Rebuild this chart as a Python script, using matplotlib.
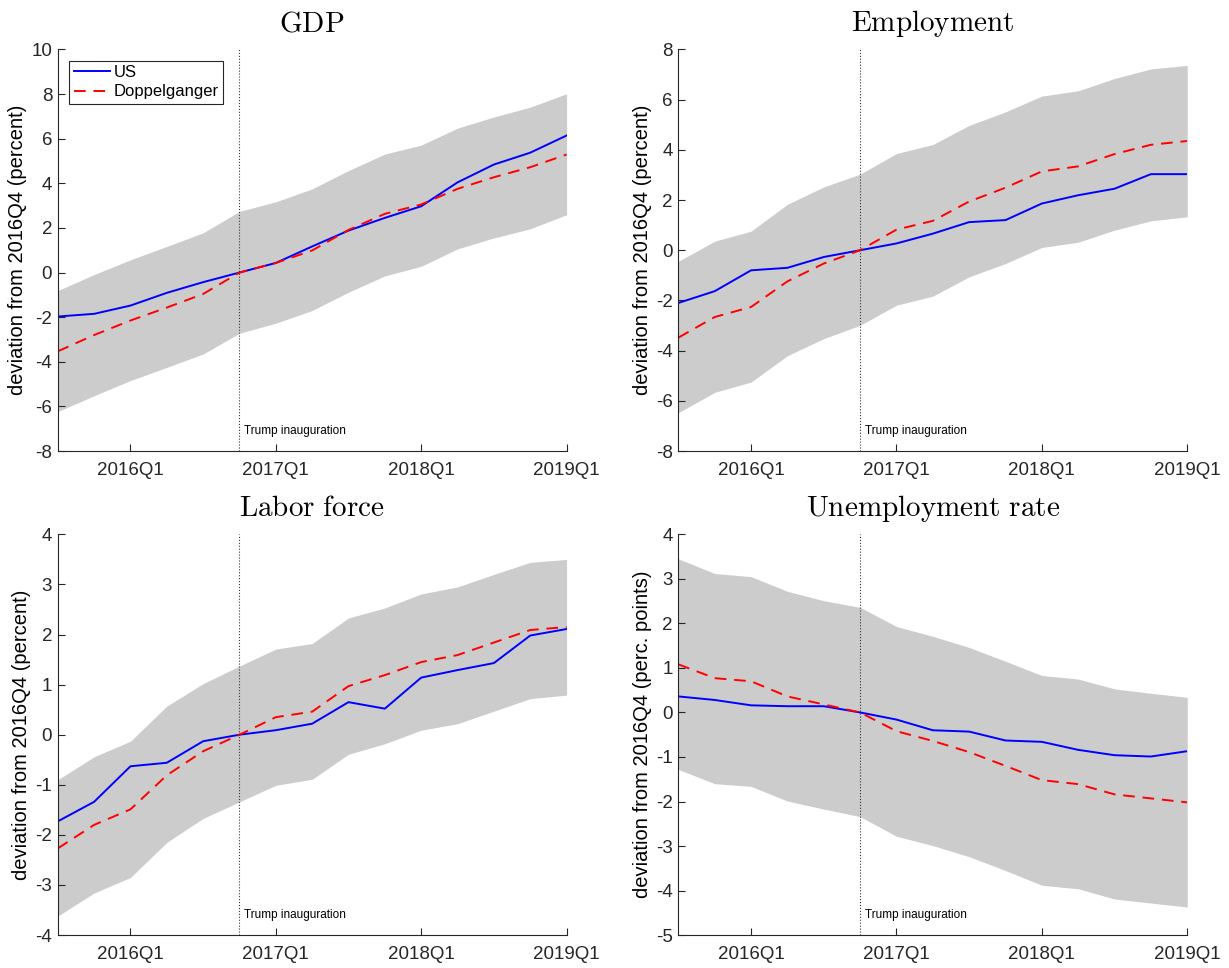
import numpy as np
import matplotlib
matplotlib.use("Agg")
import matplotlib.pyplot as plt

plt.rcParams['font.family'] = ['Liberation Sans', 'DejaVu Sans']
plt.rcParams['mathtext.fontset'] = 'cm'

# quarters 2015Q3 .. 2019Q1
quarters = ['2015Q3', '2015Q4', '2016Q1', '2016Q2', '2016Q3', '2016Q4', '2017Q1', '2017Q2',
            '2017Q3', '2017Q4', '2018Q1', '2018Q2', '2018Q3', '2018Q4', '2019Q1']
tick_labels = ['2016Q1', '2017Q1', '2018Q1', '2019Q1']
event_quarter = '2016Q4'

gdp_us = [-1.97, -1.85, -1.48, -0.91, -0.43, 0, 0.43, 1.17, 1.88, 2.45, 2.97, 4.04, 4.84, 5.37, 6.14]
gdp_dg = [-3.53, -2.80, -2.15, -1.57, -0.96, 0, 0.43, 0.99, 1.91, 2.63, 3.05, 3.75, 4.27, 4.72, 5.29]
gdp_hi = [-0.81, -0.09, 0.57, 1.17, 1.78, 2.74, 3.17, 3.75, 4.57, 5.31, 5.71, 6.47, 6.97, 7.41, 8.01]
gdp_lo = [-6.23, -5.52, -4.84, -4.25, -3.65, -2.72, -2.27, -1.70, -0.88, -0.15, 0.28, 1.06, 1.55, 1.96, 2.59]

emp_us = [-2.10, -1.63, -0.80, -0.70, -0.27, 0, 0.27, 0.66, 1.12, 1.20, 1.86, 2.19, 2.45, 3.03, 3.03]
emp_dg = [-3.48, -2.66, -2.26, -1.24, -0.53, 0, 0.82, 1.17, 1.94, 2.49, 3.14, 3.34, 3.83, 4.20, 4.35]
emp_hi = [-0.44, 0.36, 0.76, 1.83, 2.52, 3.03, 3.85, 4.21, 4.97, 5.51, 6.14, 6.35, 6.84, 7.22, 7.36]
emp_lo = [-6.47, -5.66, -5.25, -4.20, -3.52, -2.99, -2.19, -1.83, -1.06, -0.53, 0.11, 0.32, 0.80, 1.17, 1.33]

lf_us = [-1.73, -1.34, -0.63, -0.56, -0.13, 0, 0.09, 0.22, 0.65, 0.52, 1.14, 1.29, 1.43, 1.98, 2.11]
lf_dg = [-2.27, -1.80, -1.49, -0.81, -0.33, 0, 0.35, 0.46, 0.97, 1.19, 1.45, 1.59, 1.84, 2.09, 2.15]
lf_hi = [-0.90, -0.44, -0.13, 0.57, 1.02, 1.37, 1.71, 1.82, 2.33, 2.53, 2.81, 2.95, 3.20, 3.44, 3.50]
lf_lo = [-3.62, -3.16, -2.85, -2.15, -1.67, -1.34, -1.01, -0.89, -0.39, -0.18, 0.09, 0.22, 0.47, 0.72, 0.79]

ur_us = [0.36, 0.28, 0.16, 0.14, 0.14, 0, -0.16, -0.40, -0.43, -0.63, -0.66, -0.84, -0.96, -0.99, -0.87]
ur_dg = [1.08, 0.77, 0.70, 0.36, 0.18, 0, -0.42, -0.64, -0.89, -1.20, -1.52, -1.61, -1.84, -1.93, -2.02]
ur_hi = [3.45, 3.12, 3.05, 2.72, 2.51, 2.36, 1.93, 1.71, 1.46, 1.15, 0.83, 0.75, 0.53, 0.43, 0.34]
ur_lo = [-1.28, -1.60, -1.66, -1.99, -2.17, -2.34, -2.78, -2.99, -3.24, -3.55, -3.88, -3.96, -4.19, -4.28, -4.37]

panels = [
    (r'$\mathrm{GDP}$', gdp_us, gdp_dg, gdp_hi, gdp_lo, (-8, 10), 2, 'deviation from 2016Q4 (percent)'),
    (r'$\mathrm{Employment}$', emp_us, emp_dg, emp_hi, emp_lo, (-8, 8), 2, 'deviation from 2016Q4 (percent)'),
    (r'$\mathrm{Labor\ force}$', lf_us, lf_dg, lf_hi, lf_lo, (-4, 4), 1, 'deviation from 2016Q4 (percent)'),
    (r'$\mathrm{Unemployment\ rate}$', ur_us, ur_dg, ur_hi, ur_lo, (-5, 4), 1, 'deviation from 2016Q4 (perc. points)'),
]

positions = [
    [0.047, 0.534, 0.414, 0.415],
    [0.552, 0.534, 0.414, 0.415],
    [0.047, 0.034, 0.414, 0.414],
    [0.552, 0.034, 0.414, 0.414],
]

x = np.arange(len(quarters))
xt = [quarters.index(q) for q in tick_labels]
xe = quarters.index(event_quarter)
axcol = '#262626'

fig = plt.figure(figsize=(12.29, 9.68), dpi=100)

for i, (title, us, dg, hi, lo, ylim, step, ylab) in enumerate(panels):
    ax = fig.add_axes(positions[i])
    ax.fill_between(x, lo, hi, color='#cccccc', linewidth=0)
    ax.plot(x, us, color='#0000ff', lw=1.4, label='US')
    ax.plot(x, dg, color='#ff0000', lw=1.4, ls=(0, (6, 4)), label='Doppelganger')
    ax.axvline(xe, color='#333333', lw=0.8, ls=':')
    ax.text(xe + 0.13, 0.05, 'Trump inauguration', transform=ax.get_xaxis_transform(),
            fontsize=8.5, va='center', ha='left', color='black')
    ax.set_xlim(x[0], x[-1])
    ax.set_ylim(*ylim)
    ax.set_xticks(xt)
    ax.set_xticklabels(tick_labels)
    yt = np.arange(ylim[0], ylim[1] + step / 2, step)
    ax.set_yticks(yt)
    ax.set_yticklabels([str(int(v)) for v in yt])
    ax.spines['top'].set_visible(False)
    ax.spines['right'].set_visible(False)
    for s in ['left', 'bottom']:
        ax.spines[s].set_color(axcol)
        ax.spines[s].set_linewidth(0.8)
    ax.tick_params(direction='in', length=5, width=0.8, colors=axcol, labelsize=13.5, pad=4)
    ax.tick_params(axis='x', pad=8)
    ax.set_ylabel(ylab, fontsize=14.5, color='black', labelpad=3)
    ax.set_title(title, fontsize=21, pad=13)
    if i == 0:
        leg = ax.legend(loc='upper left', fontsize=12, fancybox=False, framealpha=1,
                        edgecolor=axcol, borderpad=0.25, handlelength=2.2,
                        handletextpad=0.2, labelspacing=0.25, borderaxespad=0.7)
        leg.get_frame().set_linewidth(0.8)

fig.savefig('out.png', dpi=100)
